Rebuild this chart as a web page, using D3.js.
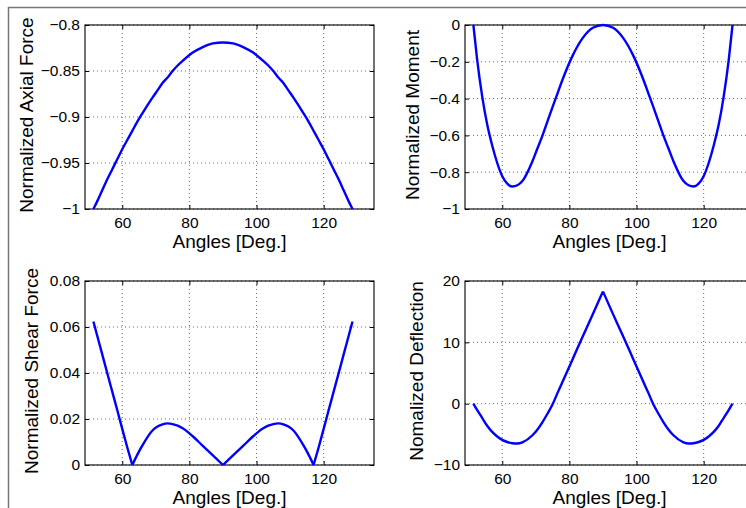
<!DOCTYPE html>
<html><head><meta charset="utf-8">
<script src="https://cdn.jsdelivr.net/npm/d3@7"></script>
<style>
body{margin:0;background:#fff}
svg{display:block}
text{font-family:"Liberation Sans",Arial,Helvetica,sans-serif;fill:#000}
</style>
</head><body>
<svg id="chart" width="746" height="508"></svg>
<script>
// ---- data ----
const angles = [51.4, 52.5, 54, 55.5, 57, 58.5, 60, 61.5, 63, 64.5, 66, 69, 70.5, 72, 73.5, 75, 76.5, 78, 81, 84, 87, 90,
  93, 96, 99, 102, 103.5, 105, 106.5, 108, 109.5, 111, 114, 115.5, 117, 118.5, 120, 121.5, 123, 124.5, 126, 127.5, 128.6];
const axialForce = [-1.0, -0.992, -0.980, -0.968, -0.957, -0.946, -0.935, -0.925, -0.915, -0.905, -0.896, -0.879, -0.871, -0.863, -0.857, -0.850, -0.844, -0.839, -0.830, -0.824, -0.820, -0.819,
  -0.820, -0.824, -0.830, -0.839, -0.844, -0.850, -0.857, -0.863, -0.871, -0.879, -0.896, -0.905, -0.915, -0.925, -0.935, -0.946, -0.957, -0.968, -0.980, -0.992, -1.0];
const moment = [0, -0.185, -0.385, -0.54, -0.655, -0.75, -0.822, -0.862, -0.878, -0.871, -0.848, -0.74, -0.67, -0.60, -0.522, -0.445, -0.37, -0.295, -0.165, -0.07, -0.015, 0,
  -0.015, -0.07, -0.165, -0.295, -0.37, -0.445, -0.522, -0.60, -0.67, -0.74, -0.848, -0.871, -0.878, -0.862, -0.822, -0.75, -0.655, -0.54, -0.385, -0.185, 0];
const shearForce = [0.0624, 0.0564, 0.0483, 0.0401, 0.032, 0.0239, 0.0157, 0.0076, 0, 0.0045, 0.0085, 0.015, 0.0167, 0.0177, 0.0181, 0.0178, 0.0171, 0.016, 0.0125, 0.0083, 0.0042, 0,
  0.0042, 0.0083, 0.0125, 0.016, 0.0171, 0.0178, 0.0181, 0.0177, 0.0167, 0.015, 0.0085, 0.0045, 0, 0.0076, 0.0157, 0.0239, 0.032, 0.0401, 0.0483, 0.0564, 0.0624];
const deflection = [0, -1.0, -2.3, -3.6, -4.6, -5.35, -5.9, -6.25, -6.45, -6.5, -6.3, -5.15, -4.2, -3.0, -1.6, -0.1, 1.8, 3.6, 7.3, 11.0, 14.6, 18.3,
  14.6, 11.0, 7.3, 3.6, 1.8, -0.1, -1.6, -3.0, -4.2, -5.15, -6.3, -6.5, -6.45, -6.25, -5.9, -5.35, -4.6, -3.6, -2.3, -1.0, 0];

const xTicks = [60, 80, 100, 120];
const axialTicks = [-1, -0.95, -0.9, -0.85, -0.8];
const momentTicks = [-1, -0.8, -0.6, -0.4, -0.2, 0];
const shearTicks = [0, 0.02, 0.04, 0.06, 0.08];
const deflectionTicks = [-10, 0, 10, 20];
const xDomain = [48.9, 135];
const xLabel = "Angles [Deg.]";

// ---- layout ----
const W = 289, H = 184;
const panels = [
  {x: 85,  y: 25,  values: axialForce, yDomain: [-1, -0.8], yTicks: axialTicks,      yLabel: "Normalized Axial Force", labelX: 33,  breaks: []},
  {x: 465, y: 25,  values: moment,     yDomain: [-1, 0],    yTicks: momentTicks,     yLabel: "Normalized Moment",      labelX: 419, breaks: []},
  {x: 85,  y: 281, values: shearForce, yDomain: [0, 0.08],  yTicks: shearTicks,      yLabel: "Normalized Shear Force", labelX: 38,  breaks: [63, 90, 117]},
  {x: 465, y: 281, values: deflection, yDomain: [-10, 20],  yTicks: deflectionTicks, yLabel: "Nomalized Deflection",   labelX: 423, breaks: [90]}
];

const svg = d3.select("#chart");
svg.append("rect").attr("width", 746).attr("height", 508).attr("fill", "#fff");

// outer frame (partially visible)
svg.append("path").attr("d", "M8.5,508 V7.5 H746")
  .attr("fill", "none").attr("stroke", "#777").attr("stroke-width", 1.5);

const fmt = v => String(v).replace("-", "\u2212");

panels.forEach(p => {
  const g = svg.append("g").attr("transform", `translate(${p.x},${p.y})`);
  const xs = d3.scaleLinear(xDomain, [0, W]);
  const ys = d3.scaleLinear(p.yDomain, [H, 0]);

  // grid
  const grid = g.append("g").attr("stroke", "#444").attr("stroke-width", 0.8)
    .attr("stroke-dasharray", "1,3").attr("fill", "none");
  xTicks.forEach(t => grid.append("line").attr("x1", xs(t)).attr("x2", xs(t)).attr("y1", 0).attr("y2", H));
  p.yTicks.forEach(t => grid.append("line").attr("x1", 0).attr("x2", W).attr("y1", ys(t)).attr("y2", ys(t)));

  // axes (inward ticks)
  const ax = g.append("g").attr("transform", `translate(0,${H})`)
    .call(d3.axisBottom(xs).tickValues(xTicks).tickSizeInner(-4).tickSizeOuter(0).tickPadding(8).tickFormat(fmt));
  const axTop = g.append("g")
    .call(d3.axisTop(xs).tickValues(xTicks).tickSizeInner(-4).tickSizeOuter(0).tickFormat(""));
  const ay = g.append("g")
    .call(d3.axisLeft(ys).tickValues(p.yTicks).tickSizeInner(-4).tickSizeOuter(0).tickPadding(5).tickFormat(fmt));
  const ayR = g.append("g").attr("transform", `translate(${W},0)`)
    .call(d3.axisRight(ys).tickValues(p.yTicks).tickSizeInner(-4).tickSizeOuter(0).tickFormat(""));
  [ax, axTop, ay, ayR].forEach(a => {
    a.select(".domain").remove();
    a.selectAll("line").attr("stroke", "#000");
    a.selectAll("text").style("font-size", "15.5px").attr("fill", "#000");
    a.attr("font-family", null);
  });

  // box
  g.append("rect").attr("width", W).attr("height", H)
    .attr("fill", "none").attr("stroke", "#000").attr("stroke-width", 1.1);

  // data line, split at kinks
  const pts = angles.map((a, i) => [a, p.values[i]]);
  const cuts = [angles[0], ...p.breaks, angles[angles.length - 1]];
  const line = d3.line().x(d => xs(d[0])).y(d => ys(d[1])).curve(d3.curveMonotoneX);
  for (let k = 0; k < cuts.length - 1; k++) {
    const seg = pts.filter(d => d[0] >= cuts[k] && d[0] <= cuts[k + 1]);
    g.append("path").attr("d", line(seg)).attr("fill", "none")
      .attr("stroke", "#0000ff").attr("stroke-width", 2.4).attr("stroke-linejoin", "round");
  }

  // labels
  g.append("text").attr("x", W / 2).attr("y", H + 39).attr("text-anchor", "middle")
    .style("font-size", "19px").text(xLabel);
  svg.append("text").attr("transform", `translate(${p.labelX},${p.y + H / 2 - 2}) rotate(-90)`)
    .attr("text-anchor", "middle").style("font-size", "19px").text(p.yLabel);
});
</script>
</body></html>
